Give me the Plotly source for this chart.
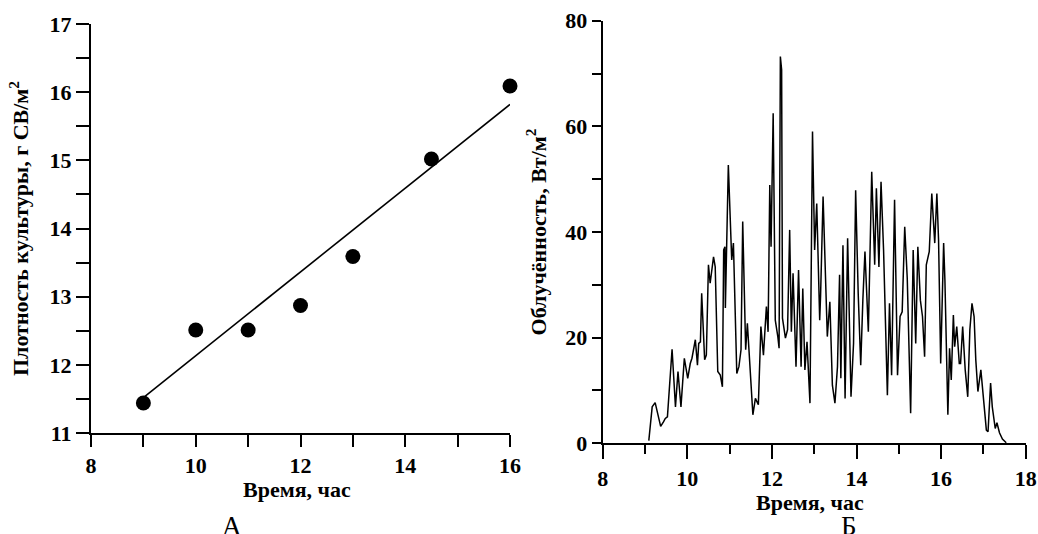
import plotly.graph_objects as go

# ---- Panel A: culture density vs time ----
time_a = [9, 10, 11, 12, 13, 14.5, 16]
density_a = [11.44, 12.51, 12.51, 12.87, 13.59, 15.02, 16.09]
fit_time = [9, 16]
fit_density = [11.52, 15.82]

# ---- Panel B: irradiance vs time ----
time_b = [9.09, 9.17, 9.24, 9.37, 9.44, 9.48, 9.53, 9.58, 9.64, 9.72, 9.78, 9.85, 9.93,
          10.01, 10.07, 10.11, 10.19, 10.24, 10.27, 10.31, 10.34, 10.41, 10.45, 10.50,
          10.54, 10.62, 10.66, 10.72, 10.78, 10.83, 10.86, 10.89, 10.90, 10.97, 11.05,
          11.09, 11.17, 11.22, 11.27, 11.31, 11.35, 11.38, 11.42, 11.46, 11.55, 11.61,
          11.68, 11.74, 11.80, 11.87, 11.91, 11.95, 11.98, 12.03, 12.08, 12.14, 12.17,
          12.20, 12.23,
          12.25, 12.32, 12.37, 12.42, 12.46, 12.50, 12.57, 12.63, 12.69, 12.73, 12.78,
          12.83, 12.90, 12.96, 13.01, 13.06, 13.13, 13.15, 13.21, 13.28, 13.31, 13.37,
          13.43, 13.49, 13.55, 13.60, 13.63, 13.68, 13.73, 13.79, 13.87, 13.93, 13.98,
          14.04, 14.10, 14.15, 14.20, 14.28, 14.31, 14.36, 14.43, 14.47, 14.53, 14.58,
          14.64, 14.73, 14.78, 14.83, 14.90, 14.97, 15.03, 15.08, 15.14, 15.20, 15.28,
          15.34, 15.40, 15.45, 15.51, 15.56, 15.61, 15.65, 15.72, 15.78, 15.85, 15.90,
          15.94, 15.99, 16.06, 16.09, 16.16, 16.20, 16.24, 16.29, 16.32, 16.37, 16.43,
          16.46, 16.51, 16.57, 16.63, 16.68, 16.73, 16.78, 16.82, 16.87, 16.94, 17.00,
          17.07, 17.11, 17.17, 17.21, 17.28, 17.32, 17.38, 17.45, 17.54]
irradiance_b = [0.5, 6.9, 7.7, 3.2, 4.1, 4.7, 5.0, 10.4, 17.8, 6.9, 13.6, 6.9, 16.1,
                12.3, 15.1, 16.1, 19.6, 14.8, 18.9, 19.2, 28.4, 15.8, 16.7, 33.8,
                30.3, 35.3, 33.4, 13.6, 12.9, 10.7, 36.6, 37.2, 25.6, 52.7, 34.7,
                37.9, 13.2, 14.5, 17.7, 42.0, 24.9, 17.7, 22.7, 17.7, 5.4, 8.5,
                7.3, 22.1, 16.7, 25.9, 21.1, 48.9, 37.2, 62.5, 23.3, 20.2, 18.0,
                73.2, 70.7,
                23.7, 19.9, 21.5, 40.4, 21.1, 32.2, 14.5, 32.8, 14.5, 29.3, 13.9,
                19.2, 7.6, 59.0, 36.6, 45.4, 23.3, 27.8, 46.7, 24.6, 20.2, 26.8,
                11.0, 7.6, 14.5, 31.9, 12.3, 37.5, 8.5, 38.8, 8.8, 18.9, 47.9,
                28.4, 14.8, 27.1, 36.3, 21.1, 33.4, 51.4, 33.8, 48.3, 33.4, 49.5,
                36.6, 9.1, 26.5, 12.9, 46.1, 12.9, 24.0, 24.9, 41.0, 31.2, 5.7,
                36.6, 18.9, 37.2, 27.1, 24.0, 16.4, 33.8, 36.3, 47.3, 37.9, 47.3,
                38.5, 15.1, 37.9, 30.9, 5.4, 18.0, 12.0, 24.3, 18.3, 22.1, 15.1,
                15.1, 22.1, 13.9, 8.8, 21.5, 26.5, 24.0, 15.8, 9.8, 13.9, 8.2,
                2.5, 2.2, 11.4, 6.9, 2.8, 3.9, 2.0, 0.8, 0.1]

x_title = "Время, час"
y_title_a = "Плотность культуры, г СВ/м<sup>2</sup>"
y_title_b = "Облучённость, Вт/м<sup>2</sup>"
panel_labels = ["А", "Б"]

W, H = 1038, 534
FONT = "Liberation Serif"

def px_x(p):
    return p / W

def px_y(p):
    return (H - p) / H

fig = go.Figure()

fig.add_trace(go.Scatter(x=fit_time, y=fit_density, mode="lines",
                         line=dict(color="black", width=1.6),
                         xaxis="x", yaxis="y", showlegend=False))
fig.add_trace(go.Scatter(x=time_a, y=density_a, mode="markers",
                         marker=dict(color="black", size=15),
                         cliponaxis=False,
                         xaxis="x", yaxis="y", showlegend=False))
fig.add_trace(go.Scatter(x=time_b, y=irradiance_b, mode="lines",
                         line=dict(color="black", width=1.5),
                         xaxis="x2", yaxis="y2", showlegend=False))

tickfont = dict(family=FONT, size=22, color="black", weight="bold")
titlefont = dict(family=FONT, size=22, color="black", weight="bold")

common = dict(showline=True, linecolor="black", linewidth=2, showgrid=False,
              zeroline=False, ticks="outside", tickcolor="black", tickwidth=2,
              tickfont=tickfont, automargin=False)

fig.update_layout(
    template=None,
    width=W, height=H,
    margin=dict(l=0, r=0, t=0, b=0, autoexpand=False),
    paper_bgcolor="white", plot_bgcolor="white",
    xaxis=dict(domain=[px_x(91), px_x(510)], range=[8, 16], dtick=2, tick0=8,
               ticklen=12, minor=dict(dtick=1, ticklen=12, ticks="outside",
                                      tickcolor="black", tickwidth=2),
               anchor="y", **common),
    yaxis=dict(domain=[px_y(433), px_y(24)], range=[11, 17], dtick=1, tick0=11,
               ticklen=13, minor=dict(dtick=0.5, ticklen=13, ticks="outside",
                                      tickcolor="black", tickwidth=2),
               title=dict(text=y_title_a, font=titlefont, standoff=15),
               anchor="x", **common),
    xaxis2=dict(domain=[px_x(602.7), px_x(1025.7)], range=[8, 18], dtick=2, tick0=8,
                ticklen=14, minor=dict(dtick=1, ticklen=9, ticks="outside",
                                       tickcolor="black", tickwidth=2),
                anchor="y2", **common),
    yaxis2=dict(domain=[px_y(443.3), px_y(20.7)], range=[0, 80], dtick=20, tick0=0,
                ticklen=9, minor=dict(dtick=10, ticklen=9, ticks="outside",
                                      tickcolor="black", tickwidth=2),
                title=dict(text=y_title_b, font=titlefont, standoff=13),
                anchor="x2", **common),
    annotations=[
        dict(text=x_title, x=px_x(297), y=px_y(489), xref="paper", yref="paper",
             showarrow=False, xanchor="center", yanchor="middle", font=titlefont,
             borderpad=0),
        dict(text=x_title, x=px_x(810), y=px_y(502), xref="paper", yref="paper",
             showarrow=False, xanchor="center", yanchor="middle", font=titlefont,
             borderpad=0),
        dict(text=panel_labels[0], x=px_x(232), y=px_y(526), xref="paper", yref="paper",
             showarrow=False, xanchor="center", yanchor="middle", borderpad=0,
             font=dict(family=FONT, size=27, color="black")),
        dict(text=panel_labels[1], x=px_x(849), y=px_y(526), xref="paper", yref="paper",
             showarrow=False, xanchor="center", yanchor="middle", borderpad=0,
             font=dict(family=FONT, size=27, color="black")),
    ],
)

fig.write_html("out.html")
